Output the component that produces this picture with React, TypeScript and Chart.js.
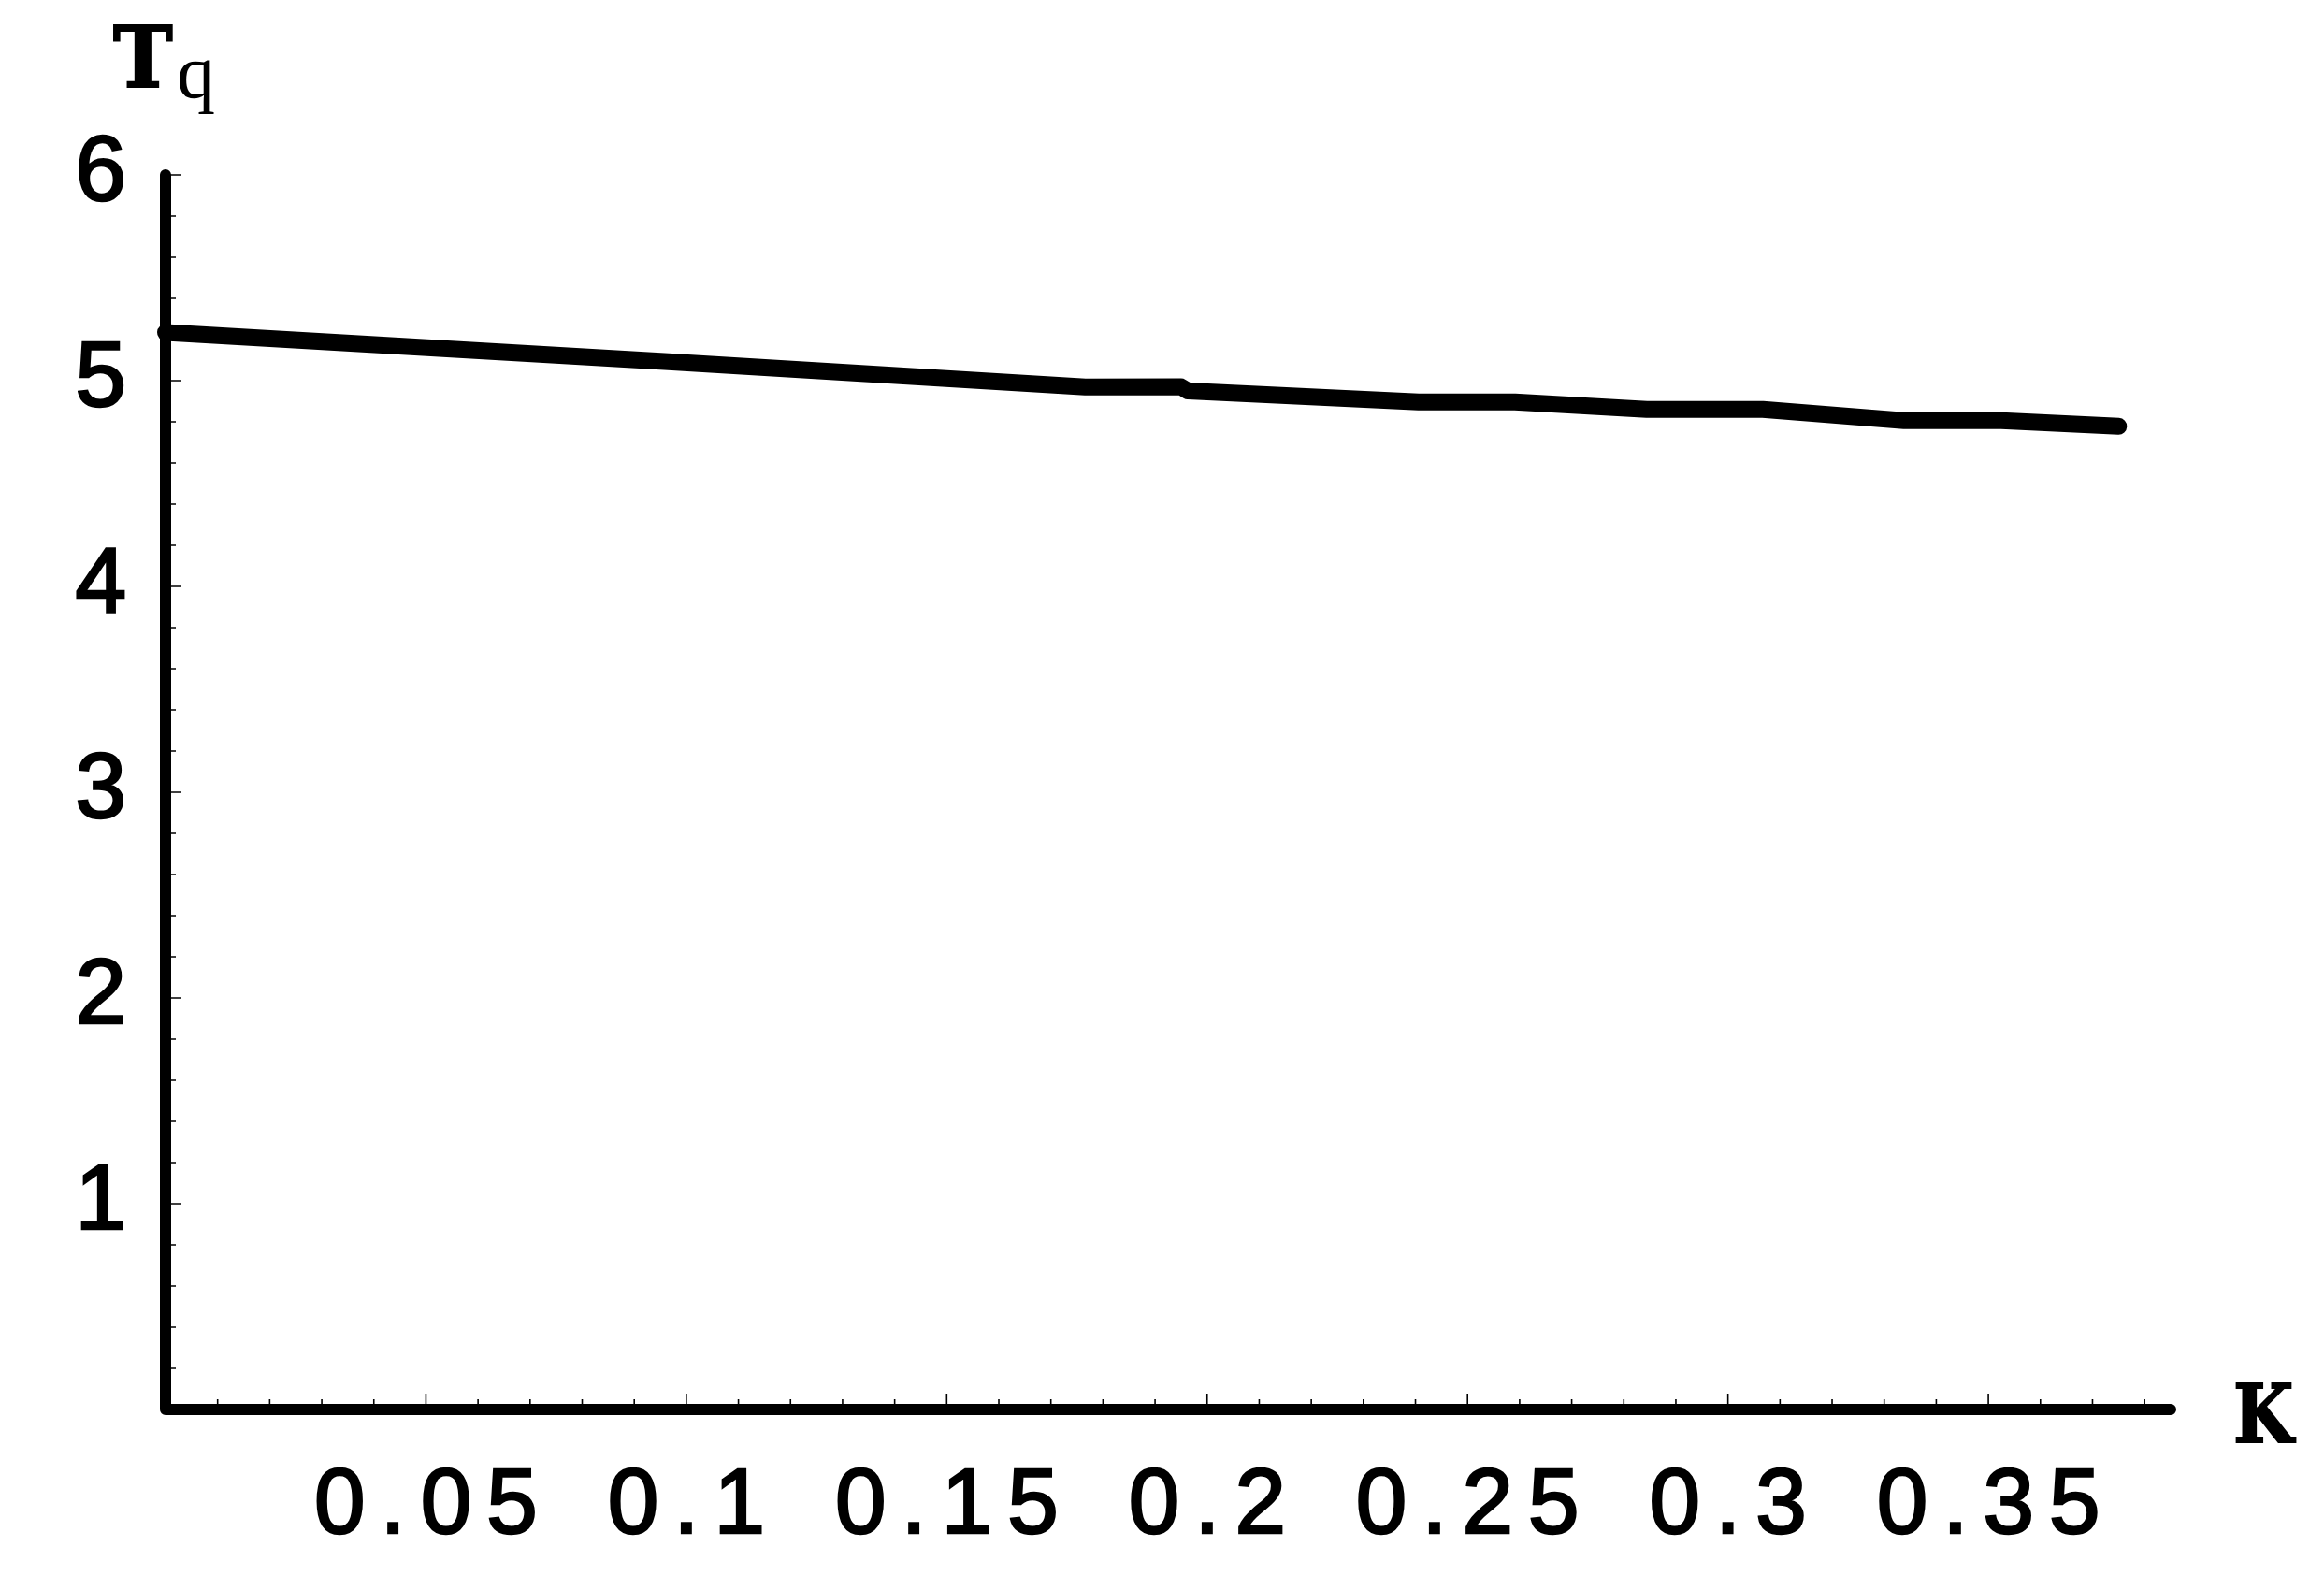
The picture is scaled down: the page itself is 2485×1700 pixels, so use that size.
import React, { useEffect, useRef } from "react";
import { Chart, registerables } from "chart.js";

Chart.register(...registerables);

// Curve T_q(K)
const kValues = [0, 0.0958, 0.1766, 0.195, 0.1963, 0.2406, 0.2591, 0.2844, 0.3067, 0.3338, 0.3525, 0.375];
const tqValues = [5.234, 5.093, 4.969, 4.97, 4.95, 4.897, 4.897, 4.86, 4.86, 4.806, 4.806, 4.778];

// Axes
const xMin = 0;
const xMax = 0.385;
const yMin = 0;
const yMax = 6;
const xMajorTicks = [0.05, 0.1, 0.15, 0.2, 0.25, 0.3, 0.35];
const xTickLabels = ["0.05", "0.1", "0.15", "0.2", "0.25", "0.3", "0.35"];
const xMinorStep = 0.01;
const yMajorTicks = [1, 2, 3, 4, 5, 6];
const yTickLabels = ["1", "2", "3", "4", "5", "6"];
const yMinorStep = 0.2;

const xTitle = "K";
const yTitleMain = "T";
const yTitleSub = "q";

const W = 2485;
const H = 1700;

const LETTER_SPACING = 16;
const tickFont = { family: "'Liberation Sans', Arial, sans-serif", size: 98, weight: "normal" as const };

const spacingPlugin = {
  id: "tickLetterSpacing",
  beforeDraw(chart: any) {
    (chart.ctx as any).letterSpacing = LETTER_SPACING + "px";
  },
  afterDraw(chart: any) {
    (chart.ctx as any).letterSpacing = "0px";
  },
};

const axesPlugin = {
  id: "mathematicaAxes",
  afterDraw(chart: any) {
    const ctx = chart.ctx;
    const xs = chart.scales.x;
    const ys = chart.scales.y;
    const x0 = xs.getPixelForValue(xMin);
    const x1 = xs.getPixelForValue(xMax);
    const y0 = ys.getPixelForValue(yMin);
    const y1 = ys.getPixelForValue(yMax);
    ctx.save();
    (ctx as any).letterSpacing = "0px";
    ctx.strokeStyle = "#000";
    ctx.fillStyle = "#000";

    // ticks (inside)
    ctx.lineWidth = 1.6;
    ctx.lineCap = "butt";
    ctx.beginPath();
    for (let i = 1; xMin + i * xMinorStep <= xMax + 1e-9; i++) {
      const v = xMin + i * xMinorStep;
      const major = xMajorTicks.some((m) => Math.abs(m - v) < 1e-6);
      const px = xs.getPixelForValue(v);
      ctx.moveTo(px, y0);
      ctx.lineTo(px, y0 - (major ? 17 : 11));
    }
    for (let i = 1; yMin + i * yMinorStep <= yMax + 1e-9; i++) {
      const v = yMin + i * yMinorStep;
      const major = yMajorTicks.some((m) => Math.abs(m - v) < 1e-6);
      const py = ys.getPixelForValue(v);
      ctx.moveTo(x0, py);
      ctx.lineTo(x0 + (major ? 17 : 11), py);
    }
    ctx.stroke();

    // axis lines
    ctx.lineWidth = 12;
    ctx.lineCap = "round";
    ctx.lineJoin = "round";
    ctx.beginPath();
    ctx.moveTo(x0, y1);
    ctx.lineTo(x0, y0);
    ctx.lineTo(x1, y0);
    ctx.stroke();

    // titles
    ctx.textAlign = "left";
    ctx.textBaseline = "alphabetic";
    ctx.lineJoin = "miter";
    ctx.lineWidth = 2;
    ctx.font = "bold 90px 'DejaVu Serif', serif";
    ctx.save();
    ctx.translate(121, 93);
    ctx.scale(0.95, 1);
    ctx.strokeText(yTitleMain, 0, 0);
    ctx.fillText(yTitleMain, 0, 0);
    ctx.restore();
    ctx.font = "82px 'Liberation Serif', serif";
    ctx.fillText(yTitleSub, 189, 104);
    ctx.font = "bold 86px 'DejaVu Serif', serif";
    ctx.save();
    ctx.translate(2388, 1542);
    ctx.scale(0.86, 1);
    ctx.strokeText(xTitle, 0, 0);
    ctx.fillText(xTitle, 0, 0);
    ctx.restore();
    ctx.restore();
  },
};

export default function App() {
  const ref = useRef<HTMLCanvasElement | null>(null);

  useEffect(() => {
    document.body.style.margin = "0";
    const canvas = ref.current;
    if (!canvas) return;
    const chart = new Chart(canvas, {
      type: "line",
      data: {
        datasets: [
          {
            data: kValues.map((k, i) => ({ x: k, y: tqValues[i] })),
            borderColor: "#000",
            borderWidth: 18,
            borderCapStyle: "round",
            borderJoinStyle: "round",
            pointRadius: 0,
            tension: 0,
            fill: false,
            clip: false as any,
          },
        ],
      },
      options: {
        responsive: false,
        animation: false,
        devicePixelRatio: 1,
        layout: { padding: { top: 187, right: 164, left: 0, bottom: 0 } },
        plugins: { legend: { display: false }, tooltip: { enabled: false }, title: { display: false } },
        scales: {
          x: {
            type: "linear",
            min: xMin,
            max: xMax,
            grid: { display: false, drawTicks: false },
            border: { display: false },
            afterBuildTicks: (s: any) => {
              s.ticks = xMajorTicks.map((v) => ({ value: v }));
            },
            afterFit: (s: any) => {
              s.height = 193;
            },
            ticks: {
              color: "#000",
              font: tickFont,
              textStrokeColor: "#000",
              textStrokeWidth: 2.6,
              padding: 46,
              labelOffset: LETTER_SPACING / 2,
              maxRotation: 0,
              autoSkip: false,
              callback: (v: any) => {
                const i = xMajorTicks.findIndex((m) => Math.abs(m - Number(v)) < 1e-9);
                return i >= 0 ? xTickLabels[i] : "";
              },
            },
          },
          y: {
            type: "linear",
            min: yMin,
            max: yMax,
            grid: { display: false, drawTicks: false },
            border: { display: false },
            afterBuildTicks: (s: any) => {
              s.ticks = yMajorTicks.map((v) => ({ value: v }));
            },
            afterFit: (s: any) => {
              s.width = 177;
            },
            ticks: {
              color: "#000",
              font: tickFont,
              textStrokeColor: "#000",
              textStrokeWidth: 2.6,
              padding: 42 - LETTER_SPACING,
              labelOffset: 0,
              autoSkip: false,
              callback: (v: any) => {
                const i = yMajorTicks.findIndex((m) => Math.abs(m - Number(v)) < 1e-9);
                return i >= 0 ? yTickLabels[i] : "";
              },
            },
          },
        },
      },
      plugins: [spacingPlugin, axesPlugin],
    });
    return () => chart.destroy();
  }, []);

  return (
    <div style={{ width: W, height: H, background: "#fff" }}>
      <canvas ref={ref} width={W} height={H} style={{ display: "block", width: W, height: H }} />
    </div>
  );
}
